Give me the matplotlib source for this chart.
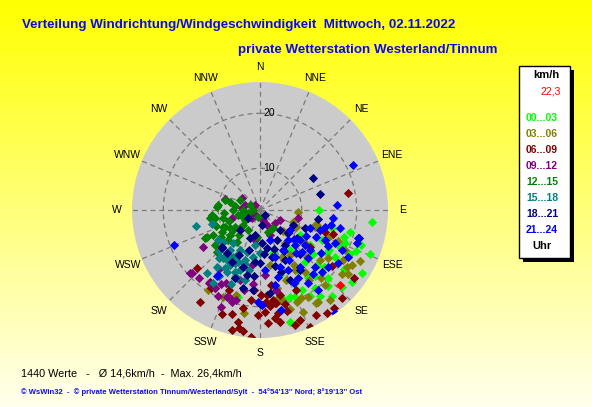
import numpy as np
import matplotlib.pyplot as plt
from matplotlib.patches import Rectangle
from matplotlib import transforms

plt.rcParams['font.family'] = ['Liberation Sans', 'DejaVu Sans']

# wind direction (degrees, clockwise from N) and speed (km/h), per 3 hour block
lime_dir = [90, 96, 112, 104, 108, 113, 109, 122, 128, 133, 140, 145, 145, 152, 158, 111, 122, 123, 139, 148,
            144, 154, 165, 135, 161, 168, 165, 143, 125, 122, 134, 163, 194, 163, 144, 104, 116, 116,
            120, 130, 140, 150, 125, 138, 115, 132]
lime_spd = [13.1, 22.9, 24.0, 19.3, 18.5, 21.3, 21.8, 24.2, 23.7, 22.9, 22.9, 21.6, 19.7, 18.8, 19.5, 19.0, 18.5, 16.9, 14.9, 15.3,
            17.4, 17.1, 19.4, 19.9, 19.1, 21.0, 23.5, 11.5, 13.5, 11.0, 16.9, 14.8, 18.7, 10.6, 6.4, 16.0, 14.9, 20.6,
            17.0, 15.0, 18.0, 20.5, 21.0, 21.0, 18.5, 18.0]

olive_dir = [132, 115, 107, 110, 112, 112, 117, 121, 126, 105, 126, 143, 155, 144, 130, 121, 148, 158, 163, 123,
             128, 149, 157, 161, 166, 168, 151, 142, 213, 203, 189, 196, 93, 105, 146, 170, 145, 139, 148,
             135, 150, 160, 125, 138, 170, 115, 155]
olive_spd = [8.0, 9.7, 12.9, 8.8, 15.8, 17.7, 22.8, 22.0, 22.2, 12.8, 12.5, 9.9, 11.8, 16.3, 16.6, 20.0, 22.2, 20.5, 21.3, 21.3,
             21.4, 22.2, 22.5, 23.9, 19.2, 16.9, 20.6, 23.1, 19.7, 19.6, 21.4, 18.5, 9.3, 13.1, 12.2, 12.6, 18.0, 20.4, 14.2,
             14.5, 15.0, 16.0, 17.5, 19.0, 19.0, 19.5, 20.0]

maroon_dir = [213, 200, 191, 193, 190, 188, 184, 212, 215, 227, 202, 201, 170, 170, 163, 157, 126, 137, 147, 143,
              181, 108, 127, 128, 79, 109, 179, 172, 167, 165, 184, 177, 186, 172, 156, 160, 172, 152, 176, 174,
              171, 176, 210, 170, 180, 190, 165, 175, 195]
maroon_spd = [22.4, 22.5, 23.1, 24.8, 24.2, 24.6, 25.5, 19.1, 18.3, 18.0, 17.1, 18.0, 19.6, 23.1, 24.2, 25.5, 23.6, 24.3, 24.8, 24.8,
              21.5, 16.3, 13.7, 19.1, 18.7, 14.9, 17.9, 18.9, 18.3, 20.2, 17.0, 21.0, 18.9, 16.2, 18.3, 23.7, 22.2, 24.0, 19.1, 20.0,
              19.6, 23.0, 18.8, 21.4, 19.5, 20.5, 21.5, 18.0, 22.0]

purple_dir = [288, 304, 315, 276, 225, 225, 166, 228, 254, 237, 163, 228, 222, 210, 206, 202, 201, 195, 196, 191,
              235, 155, 128, 117, 131, 102, 215, 208, 199, 197, 227, 288, 158, 190, 176, 169, 188, 233, 215, 185, 205]
purple_spd = [9.1, 6.3, 3.7, 5.7, 3.7, 4.5, 3.9, 7.3, 7.7, 14.8, 4.3, 19.5, 19.0, 18.8, 19.9, 21.5, 19.3, 19.4, 15.6, 17.2,
              4.6, 5.4, 8.9, 6.4, 6.0, 9.5, 18.6, 17.7, 19.3, 20.0, 19.3, 5.3, 7.3, 7.9, 14.2, 17.2, 12.5, 11.5, 15.5, 16.0, 17.0]

green_dir = [274, 277, 258, 285, 270, 270, 256, 270, 196, 264, 261, 260, 245, 239, 236, 229, 211, 243, 243, 242,
             240, 232, 226, 144, 160, 220, 230, 244, 234, 297, 286, 297, 236, 257, 227, 216, 186,
             250, 265, 250, 235, 280, 255]
green_spd = [10.2, 10.1, 9.3, 8.0, 7.3, 5.5, 4.7, 3.7, 3.7, 11.2, 11.6, 10.7, 9.8, 8.8, 7.9, 6.5, 6.6, 13.6, 13.2, 12.1,
             10.4, 12.8, 13.3, 6.4, 6.7, 8.3, 9.5, 9.5, 8.5, 6.5, 9.0, 4.4, 5.7, 6.5, 10.4, 9.6, 7.3,
             8.5, 9.0, 11.0, 11.0, 7.0, 6.0]

teal_dir = [221, 217, 208, 209, 218, 210, 207, 197, 198, 199, 192, 220, 213, 256, 217, 207, 197, 189, 180, 213,
            220, 229, 219, 254, 235, 190, 188, 201, 203, 211, 205, 215, 195, 225, 212, 202]
teal_spd = [13.9, 15.4, 15.1, 13.8, 13.4, 12.2, 10.5, 11.9, 13.9, 15.5, 15.4, 17.3, 18.2, 14.4, 11.5, 11.6, 10.4, 11.0, 10.2, 13.3,
            13.6, 11.3, 10.1, 11.5, 11.8, 13.5, 8.8, 16.9, 12.7, 14.7, 13.0, 12.5, 12.6, 13.0, 16.5, 14.5]

navy_dir = [75, 59, 99, 114, 106, 112, 127, 200, 226, 205, 186, 177, 170, 151, 166, 236, 208, 218, 197, 191,
            225, 185, 192, 173, 161, 146, 135, 153, 172, 138, 191, 157, 225, 135,
            165, 180, 175, 150, 160, 195, 185, 145, 130, 200]
navy_spd = [13.7, 13.6, 13.1, 9.0, 21.2, 11.2, 10.8, 7.8, 12.0, 11.4, 11.9, 8.4, 9.4, 8.7, 11.2, 5.0, 13.1, 12.3, 13.2, 14.4,
            12.2, 17.0, 16.9, 17.6, 14.4, 15.5, 7.5, 12.6, 5.1, 13.3, 7.0, 16.2, 7.5, 3.7,
            13.0, 12.0, 10.5, 11.0, 10.0, 10.0, 14.5, 10.2, 9.0, 15.5]

blue_dir = [86, 96, 103, 106, 109, 102, 105, 108, 116, 115, 114, 116, 118, 124, 130, 135, 136, 135, 135, 135,
            137, 150, 162, 161, 155, 151, 147, 144, 168, 179, 144, 248, 213, 64, 124, 127, 129, 162, 175, 169,
            181, 213, 120, 125, 140, 145, 150, 130, 118, 140, 155, 165, 128, 110]
blue_spd = [16.4, 15.7, 17.3, 20.9, 21.0, 15.6, 14.6, 13.9, 13.7, 15.4, 17.3, 19.0, 20.5, 19.5, 18.5, 18.3, 16.8, 14.7, 13.2, 11.4,
            9.9, 10.8, 11.4, 13.4, 14.4, 16.6, 18.3, 20.4, 21.0, 19.7, 25.5, 19.3, 16.7, 21.2, 8.9, 11.5, 14.0, 8.1, 13.3, 16.3,
            19.1, 16.4, 12.0, 16.0, 12.5, 15.0, 13.0, 10.5, 16.5, 17.5, 17.0, 15.0, 12.8, 12.0]

last_dir = [133]
last_spd = [22.3]

hour_labels = ['00...03', '03...06', '06...09', '09...12', '12...15', '15...18', '18...21', '21...24']
hour_colors = ['#00FF00', '#808000', '#800000', '#800080', '#008000', '#008080', '#000080', '#0000FF']
directions = ['N', 'NNE', 'NE', 'ENE', 'E', 'ESE', 'SE', 'SSE', 'S', 'SSW', 'SW', 'WSW', 'W', 'WNW', 'NW', 'NNW']

groups = [(lime_dir, lime_spd), (olive_dir, olive_spd), (maroon_dir, maroon_spd), (purple_dir, purple_spd),
          (green_dir, green_spd), (teal_dir, teal_spd), (navy_dir, navy_spd), (blue_dir, blue_spd)]

W, H = 592, 407
fig = plt.figure(figsize=(W / 100, H / 100), dpi=100)


def fx(px):
    return px / W


def fy(py):
    return 1 - py / H


# yellow gradient background
bg = fig.add_axes([0, 0, 1, 1], zorder=-10)
img = np.ones((256, 1, 3))
img[:, 0, 2] = np.linspace(0, 0.93, 256)
bg.imshow(img, aspect='auto', extent=[0, 1, 0, 1])
bg.axis('off')

# polar plot
ax = fig.add_axes([fx(132), fy(338), 256 / W, 256 / H], projection='polar')
ax.set_theta_zero_location('N')
ax.set_theta_direction(-1)
ax.set_facecolor('#CBCBCB')
ax.spines['polar'].set_visible(False)
ax.set_rlim(2.4, 25.7)
ax.set_thetagrids(np.arange(0, 360, 22.5), labels=[''] * 16)
ax.set_rgrids([10, 20], labels=['', ''])
ax.grid(True, color='#7a7a7a', linestyle=(0, (4, 3)), linewidth=0.9)

for (d, s), col in zip(groups, hour_colors):
    ax.scatter(np.deg2rad(d), s, marker='D', s=22, color=col, linewidths=0, zorder=3)
ax.scatter(np.deg2rad(last_dir), last_spd, marker='D', s=22, color='#FF0000', linewidths=0, zorder=4)

off = transforms.offset_copy(ax.transData, fig=fig, x=3, y=0, units='dots')
for r in [10, 20]:
    ax.text(0, r, str(r), transform=off, ha='left', va='center', fontsize=7.5, zorder=5)

# compass labels
lab_r = 0.5 * 143 / 128
for i, name in enumerate(directions):
    a = np.deg2rad(i * 22.5)
    ax.text(0.5 + lab_r * np.sin(a), 0.5 + lab_r * np.cos(a), name, transform=ax.transAxes,
            ha='center', va='center', fontsize=7.5, clip_on=False)

# titles
blue = '#0A0AF0'
fig.text(fx(22), fy(25), 'Verteilung Windrichtung/Windgeschwindigkeit  Mittwoch, 02.11.2022',
         fontsize=9.6, fontweight='bold', color=blue, va='center')
fig.text(fx(238), fy(50), 'private Wetterstation Westerland/Tinnum',
         fontsize=9.6, fontweight='bold', color=blue, va='center')

# legend box
fig.patches.append(Rectangle((fx(523), fy(262)), 51 / W, 192 / H, transform=fig.transFigure,
                             facecolor='black', edgecolor='none', zorder=1))
fig.patches.append(Rectangle((fx(519), fy(258)), 51 / W, 192 / H, transform=fig.transFigure,
                             facecolor='white', edgecolor='black', linewidth=1, zorder=2))
fig.text(fx(546), fy(75), 'km/h', fontsize=8, fontweight='bold', ha='center', va='center', zorder=3)
fig.text(fx(561), fy(92), '22,3', fontsize=7.5, color='#FF0000', ha='right', va='center', zorder=3)
for i, (lab, col) in enumerate(zip(hour_labels, hour_colors)):
    fig.text(fx(542), fy(118 + i * 16), lab, fontsize=7.5, fontweight='bold', color=col,
             ha='center', va='center', zorder=3)
fig.text(fx(542), fy(246), 'Uhr', fontsize=8, fontweight='bold', ha='center', va='center', zorder=3)

# summary lines
fig.text(fx(21), fy(373), '1440 Werte   -   Ø 14,6km/h  -  Max. 26,4km/h', fontsize=7.8, va='center')
fig.text(fx(21), fy(392), "© WsWin32  -  © private Wetterstation Tinnum/Westerland/Sylt  -  54°54'13'' Nord; 8°19'13'' Ost",
         fontsize=5.5, fontweight='bold', color=blue, va='center')

fig.savefig('out.png', dpi=100)
